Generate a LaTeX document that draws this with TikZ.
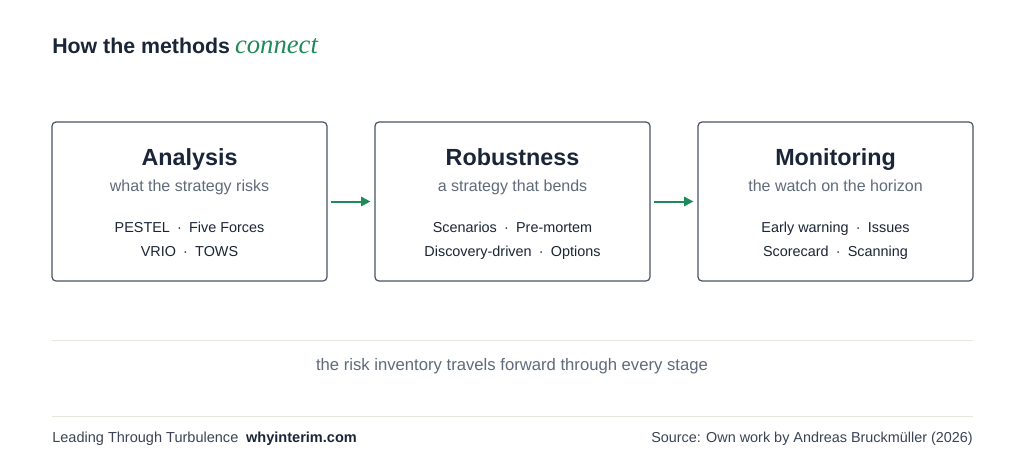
\documentclass[tikz,border=0pt]{standalone}
\usepackage{fontspec}
\setmainfont{Liberation Sans}
\newfontfamily\serifit{Liberation Serif}
\usetikzlibrary{arrows.meta}
\definecolor{ink}{HTML}{1B2538}
\definecolor{sub}{HTML}{5F6B7A}
\definecolor{item}{HTML}{1A2536}
\definecolor{frame}{HTML}{4A5364}
\definecolor{accent}{HTML}{1E8A5A}
\definecolor{rule}{HTML}{E6E6DC}
\definecolor{foot}{HTML}{3A4454}
\tikzset{
  stagebox/.style={draw=frame, line width=0.9pt, rounded corners=3pt, minimum width=206.25pt, minimum height=119.25pt, inner sep=0pt},
  stagetitle/.style={anchor=base, text=ink, font=\fontsize{17.5pt}{20pt}\selectfont\bfseries},
  stagesub/.style={anchor=base, text=sub, font=\fontsize{12pt}{14pt}\selectfont},
  stageitem/.style={anchor=base, text=item, font=\fontsize{10.8pt}{12pt}\selectfont},
  flow/.style={draw=accent, line width=1.5pt, -{Triangle[length=7pt,width=7pt]}, shorten <=2.25pt, shorten >=3pt},
  hrule/.style={draw=rule, line width=0.75pt},
  foottext/.style={inner sep=0pt, text=foot, font=\fontsize{10.9pt}{12pt}\selectfont},
}
\newcommand{\sep}{\enspace·\enspace}
\begin{document}
\begin{tikzpicture}[x=0.75pt,y=-0.75pt]
\useasboundingbox[fill=white] (0,0) rectangle (1024,461);
% title
\node[anchor=base west, inner sep=0pt, text=ink, font=\fontsize{16pt}{18pt}\selectfont\bfseries] (title) at (52,53) {How the methods};
\node[anchor=base west, inner sep=0pt, text=accent, font=\fontsize{20pt}{20pt}\selectfont\serifit\itshape] (titleit) at (title.base east) {\,connect};
% boxes
\node[stagebox] (b1) at (189.5,201.5) {};
\node[stagebox] (b2) at (512.5,201.5) {};
\node[stagebox] (b3) at (835.5,201.5) {};
% box 1
\node[stagetitle] (t1) at (189.5,165) {Analysis};
\node[stagesub] (s1) at (189.5,191) {what the strategy risks};
\node[stageitem] (i1a) at (189.5,232) {PESTEL\sep Five Forces};
\node[stageitem] (i1b) at (189.5,256) {VRIO\sep TOWS};
% box 2
\node[stagetitle] (t2) at (512.5,165) {Robustness};
\node[stagesub] (s2) at (512.5,191) {a strategy that bends};
\node[stageitem] (i2a) at (512.5,232) {Scenarios\sep Pre-mortem};
\node[stageitem] (i2b) at (512.5,256) {Discovery-driven\sep Options};
% box 3
\node[stagetitle] (t3) at (835.5,165) {Monitoring};
\node[stagesub] (s3) at (835.5,191) {the watch on the horizon};
\node[stageitem] (i3a) at (835.5,232) {Early warning\sep Issues};
\node[stageitem] (i3b) at (835.5,256) {Scorecard\sep Scanning};
% arrows
\draw[flow] (b1.east) -- (b2.west);
\draw[flow] (b2.east) -- (b3.west);
% rules
\coordinate (r1a) at (52,340); \coordinate (r1b) at (973,340);
\draw[hrule] (r1a) -- (r1b);
\node[stagesub, font=\fontsize{12.5pt}{14pt}\selectfont] (note) at (512,370) {the risk inventory travels forward through every stage};
\coordinate (r2a) at (52,416); \coordinate (r2b) at (973,416);
\draw[hrule] (r2a) -- (r2b);
% footer
\node[foottext, anchor=base west] (f1) at (52,442) {Leading Through Turbulence};
\node[foottext, anchor=base west, text=ink, font=\fontsize{10.9pt}{12pt}\selectfont\bfseries] (f2) at (f1.base east) {\enspace whyinterim.com};
\node[foottext, anchor=base east, font=\fontsize{10.8pt}{12pt}\selectfont] (f3) at (973,442) {Source: Own work by Andreas Bruckmüller (2026)};
\end{tikzpicture}
\end{document}
